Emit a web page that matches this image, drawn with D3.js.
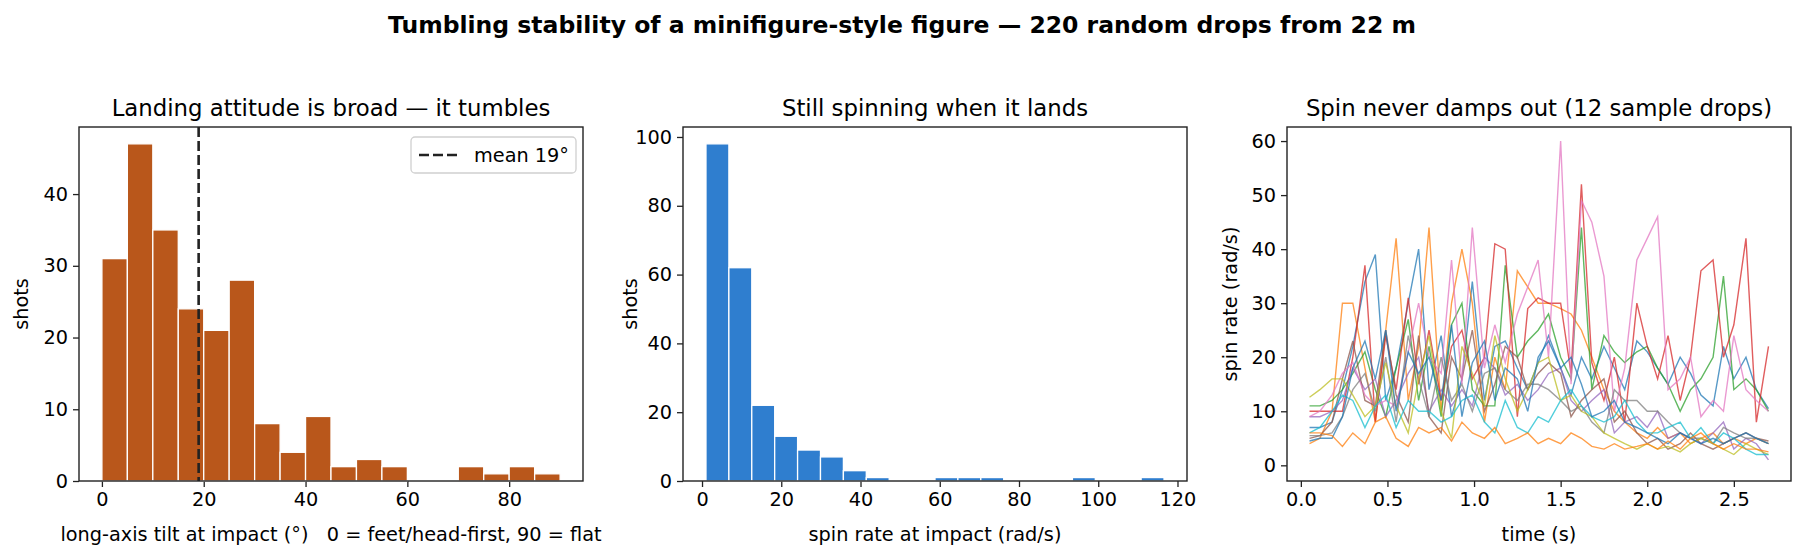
<!DOCTYPE html>
<html>
<head>
<meta charset="utf-8">
<script src="https://cdn.jsdelivr.net/npm/d3@7"></script>
<style>
body { margin: 0; background: #fff; }
text { font-family: "DejaVu Sans", sans-serif; fill: #000; white-space: pre; }
</style>
</head>
<body>
<svg id="chart" width="1804" height="555"></svg>
<script>
// tilt histogram: 18 bins of 5 degrees
const tiltEdges = d3.range(0, 95, 5)
const tiltCounts = [31, 47, 35, 24, 21, 28, 8, 4, 9, 2, 3, 2, 0, 0, 2, 1, 2, 1]
const tiltMean = 19

// spin histogram: 20 bins from 1.0 to 116.6
const spinEdges = [1.0, 6.78, 12.56, 18.34, 24.12, 29.9, 35.68, 41.46, 47.24, 53.02, 58.8, 64.58, 70.36, 76.14, 81.92, 87.7, 93.48, 99.26, 105.04, 110.82, 116.6]
const spinCounts = [98, 62, 22, 13, 9, 7, 3, 1, 0, 0, 1, 1, 1, 0, 0, 0, 1, 0, 0, 1]

// sample spin traces
const times = [0.05, 0.11, 0.18, 0.24, 0.30, 0.37, 0.43, 0.49, 0.55, 0.62, 0.68, 0.74, 0.81, 0.87, 0.93, 0.99, 1.06, 1.12, 1.18, 1.25, 1.31, 1.37, 1.43, 1.50, 1.56, 1.62, 1.68, 1.75, 1.81, 1.87, 1.94, 2.00, 2.06, 2.12, 2.19, 2.25, 2.31, 2.38, 2.44, 2.50, 2.57, 2.63, 2.70]
const drop0 = [7,7,8,14,22,34,39,12,18,30, 40,14,24,9,16,34,12,22,23,18, 14,19,24,18,13,20,16,22,18,14, 23,21,18,15,20,17,13,11,22,16, 20,14,10.5]
const drop1 = [4,5,10,30,30,18,8,25,42,12, 22,44,10,30,40,30,8,20,14,36, 33,30,30,29,28,25,20,14,10,8, 6,5,7,5,6,4,5,6,4,5, 4,5,4]
const drop2 = [11,11,12,14,17,21,14,9,18,27, 12,22,9,26,30,14,11,11,37,20, 23,25,28,20,16,44,14,24,21,19, 21,22,18,15,10,14,16,20,35,14, 16,14,10]
const drop3 = [10,10,10,10,20,37,8,24,14,31, 15,25,12,22,25,16,20,41,40,9, 29,31,30,30,17,52,19,12,20,8, 30,22,16,24,12,20,36,38,20,26, 42,8,22]
const drop4 = [9,9,10,12,18,14,16,9,12,17, 20,10,14,11,14,11,20,18,13,15, 12,14,17,18,12,10,12,14,6,8, 9,7,10,5,6,5,4,6,8,3, 5,4,1]
const drop5 = [5,5.5,8,16,23,12,11,25,13,8, 24,9,6,20,16,25,10,15,22,20, 14,17,19,17,9,12,14,16,8,10, 6,4,5,3,4,6,4,3,4,5, 6,5,4.5]
const drop6 = [9,10,13,17,19,13,11,12,11,21, 30,20,17,38,15,44,18,26,19,28, 33,38,20,60,15,49,45,35,10,18, 38,42,46,14,16,20,9,12,10,24, 14,12,10]
const drop7 = [5.5,5.5,6,9,14,17,10,20,8,24, 16,9,20,12,15,10,17,18,14,12, 15,15,14,12,10,11,8,6,14,12, 12,10,10,8,6,5,5,4,7,6, 5,5,4]
const drop8 = [12.6,14,16,16,13,9,11,19,11,6, 16,24,10,5,22,17,11,24,16,10, 14,19,20,12,13,10,9,6,5,4, 3,4,3,3.5,2.5,4,5,4,3,2, 4,3,2]
const drop9 = [6,7,10,13,12,7,11,13,7,12, 10,10,8,9,12,13,8,6,12,7, 6,9,8,12,14,11,9,8,9,12, 8,6,6,7,8,5,7,4,6,5, 3,2,2]
const drop10 = [4.5,5,5,9,18,23,16,25,10,21, 17,20,12,26,9,19,23,12,18,16, 10,20,23,18,20,15,9,10,12,8, 7,6,5,4,6,5,4,5,4,5, 6,5,4]
const drop11 = [6,6,5.5,3.5,6,4,8,9,5,3.5, 7,6,7,4.5,8,6,5,7,4,5, 6,4,5,4,6,5,3.5,3,4,3, 3.5,4,3,4.5,3,5,6,4,3,4, 3,3,2.5]
const drops = [drop0, drop1, drop2, drop3, drop4, drop5, drop6, drop7, drop8, drop9, drop10, drop11]

const svg = d3.select("#chart")
const plotTop = 127, plotBottom = 481
const panels = [79, 683, 1287]
const pw = 504
const fs = "19.3px"

svg.append("text")
    .attr("x", 902).attr("y", 33)
    .attr("text-anchor", "middle")
    .style("font-size", "23.5px").style("font-weight", "bold")
    .text("Tumbling stability of a minifigure-style figure — 220 random drops from 22 m")

function frame(left, title, xlab, ylab, ylabX, xScale, yScale, xTicks, yTicks, fmt){
    const g = svg.append("g")
    g.append("text").attr("x", left + pw/2).attr("y", plotTop - 11)
        .attr("text-anchor", "middle").style("font-size", "22.8px").text(title)
    const xa = g.append("g").attr("transform", "translate(0," + plotBottom + ")")
        .call(d3.axisBottom(xScale).tickValues(xTicks).tickFormat(fmt || d3.format("")).tickSize(6).tickPadding(5))
    const ya = g.append("g").attr("transform", "translate(" + left + ",0)")
        .call(d3.axisLeft(yScale).tickValues(yTicks).tickFormat(d3.format("")).tickSize(6).tickPadding(5))
    for (const a of [xa, ya]) {
        a.select(".domain").remove()
        a.selectAll("text").style("font-size", fs).attr("font-family", null)
        a.selectAll("line").attr("stroke", "#222").attr("stroke-width", 1.3)
    }
    g.append("rect").attr("class", "frame").attr("x", left).attr("y", plotTop).attr("width", pw).attr("height", plotBottom - plotTop)
        .attr("fill", "none").attr("stroke", "#222").attr("stroke-width", 1.4)
    g.append("text").attr("x", left + pw/2).attr("y", plotBottom + 60)
        .attr("text-anchor", "middle").style("font-size", fs).text(xlab)
    g.append("text").attr("transform", "translate(" + ylabX + "," + ((plotTop + plotBottom)/2) + ") rotate(-90)")
        .attr("text-anchor", "middle").style("font-size", fs).text(ylab)
    return g
}

// panel 1
const x1 = d3.scaleLinear().domain([-4.5, 94.5]).range([panels[0], panels[0] + pw])
const y1 = d3.scaleLinear().domain([0, 49.35]).range([plotBottom, plotTop])
const g1 = frame(panels[0], "Landing attitude is broad — it tumbles",
    "long-axis tilt at impact (°)   0 = feet/head-first, 90 = flat", "shots", 28,
    x1, y1, [0, 20, 40, 60, 80], [0, 10, 20, 30, 40])
g1.insert("g", ".frame").selectAll("rect").data(tiltCounts).enter().append("rect")
    .attr("x", (d, i) => x1(tiltEdges[i]))
    .attr("width", (d, i) => x1(tiltEdges[i + 1]) - x1(tiltEdges[i]))
    .attr("y", d => y1(d)).attr("height", d => plotBottom - y1(d))
    .attr("fill", "#b9571b").attr("stroke", "#fff").attr("stroke-width", 1.3)
g1.append("line").attr("x1", x1(tiltMean)).attr("x2", x1(tiltMean)).attr("y1", plotTop).attr("y2", plotBottom)
    .attr("stroke", "#222").attr("stroke-width", 2.6).attr("stroke-dasharray", "10,4")
const lg = g1.append("g").attr("transform", "translate(" + (panels[0] + pw - 172) + "," + (plotTop + 10) + ")")
lg.append("rect").attr("width", 165).attr("height", 36).attr("rx", 4)
    .attr("fill", "#fff").attr("stroke", "#d0d0d0").attr("stroke-width", 1.3)
lg.append("line").attr("x1", 8).attr("x2", 48).attr("y1", 18).attr("y2", 18)
    .attr("stroke", "#222").attr("stroke-width", 2.6).attr("stroke-dasharray", "10,4")
lg.append("text").attr("x", 63).attr("y", 25).style("font-size", fs).text("mean " + tiltMean + "°")

// panel 2
const x2 = d3.scaleLinear().domain([-4.8, 122.4]).range([panels[1], panels[1] + pw])
const y2 = d3.scaleLinear().domain([0, 102.9]).range([plotBottom, plotTop])
const g2 = frame(panels[1], "Still spinning when it lands", "spin rate at impact (rad/s)", "shots", panels[1] - 46,
    x2, y2, [0, 20, 40, 60, 80, 100, 120], [0, 20, 40, 60, 80, 100])
g2.insert("g", ".frame").selectAll("rect").data(spinCounts).enter().append("rect")
    .attr("x", (d, i) => x2(spinEdges[i]))
    .attr("width", (d, i) => x2(spinEdges[i + 1]) - x2(spinEdges[i]))
    .attr("y", d => y2(d)).attr("height", d => plotBottom - y2(d))
    .attr("fill", "#2f7ecf").attr("stroke", "#fff").attr("stroke-width", 1.3)

// panel 3
const x3 = d3.scaleLinear().domain([-0.08, 2.83]).range([panels[2], panels[2] + pw])
const y3 = d3.scaleLinear().domain([-2.9, 62.6]).range([plotBottom, plotTop])
const g3 = frame(panels[2], "Spin never damps out (12 sample drops)", "time (s)", "spin rate (rad/s)", panels[2] - 50,
    x3, y3, [0, 0.5, 1, 1.5, 2, 2.5], [0, 10, 20, 30, 40, 50, 60], d3.format(".1f"))
const line = d3.line().x((d, i) => x3(times[i])).y(d => y3(d))
g3.insert("g", ".frame").selectAll("path").data(drops).enter().append("path")
    .attr("d", line).attr("fill", "none")
    .attr("stroke", (d, i) => d3.schemeCategory10[i % 10])
    .attr("stroke-width", 1.4).attr("stroke-opacity", 0.75)
</script>
</body>
</html>
